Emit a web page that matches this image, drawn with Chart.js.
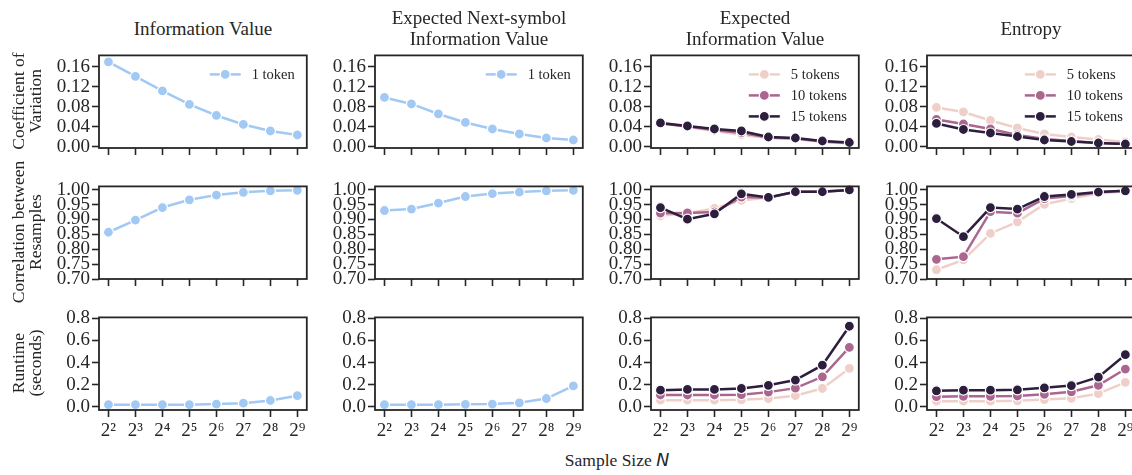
<!DOCTYPE html>
<html>
<head>
<meta charset="utf-8">
<title>Sample size sweep</title>
<script src="https://cdn.jsdelivr.net/npm/chart.js@4.4.1/dist/chart.umd.min.js"></script>
<style>
  html, body { margin: 0; padding: 0; background: #fff; overflow: hidden; }
  body { width: 1132px; height: 475px; position: relative;
         font-family: 'Liberation Serif', 'Times New Roman', serif; color: #262626; }
  .panel { position: absolute; }
  .col-title { position: absolute; width: 280px; text-align: center; font-size: 19px; line-height: 21px; white-space: nowrap; }
  .row-label { position: absolute; width: 200px; height: 34px; text-align: center; font-size: 17.5px;
               line-height: 17px; transform: rotate(-90deg); white-space: nowrap; }
  .x-label { position: absolute; left: 417px; top: 450px; width: 400px; text-align: center;
             font-size: 17.5px; line-height: 20px; }
  .x-label i { font-family: 'DejaVu Sans', sans-serif; }
</style>
</head>
<body>
<div class="x-label">Sample Size <i>N</i></div>
<script>
// ----------------------------
// Data
// ----------------------------
var exponents = [2, 3, 4, 5, 6, 7, 8, 9];
var xTickLabels = ['2²', '2³', '2⁴', '2⁵', '2⁶', '2⁷', '2⁸', '2⁹'];

var columnTitles = [['Information Value'], ['Expected Next-symbol', 'Information Value'],
                    ['Expected', 'Information Value'], ['Entropy']];
var rowLabels = [['Coefficient of', 'Variation'], ['Correlation between', 'Resamples'],
                 ['Runtime', '(seconds)']];

var oneTokenLabel = ['1 token'];
var tokenLabels = ['5 tokens', '10 tokens', '15 tokens'];

var cvTicks = [0, 0.04, 0.08, 0.12, 0.16];
var corrTicks = [0.70, 0.75, 0.80, 0.85, 0.90, 0.95, 1.00];
var runtimeTicks = [0, 0.2, 0.4, 0.6, 0.8];

// coefficient of variation
var cvInfoValue   = [0.170, 0.141, 0.112, 0.085, 0.063, 0.045, 0.032, 0.024];
var cvNextSymbol  = [0.099, 0.086, 0.066, 0.049, 0.036, 0.026, 0.018, 0.014];
var cvExpected5   = [0.050, 0.040, 0.032, 0.024, 0.018, 0.016, 0.010, 0.007];
var cvExpected10  = [0.047, 0.041, 0.034, 0.028, 0.019, 0.017, 0.011, 0.008];
var cvExpected15  = [0.048, 0.042, 0.036, 0.032, 0.020, 0.018, 0.012, 0.009];
var cvEntropy5    = [0.079, 0.070, 0.053, 0.038, 0.026, 0.020, 0.015, 0.010];
var cvEntropy10   = [0.055, 0.046, 0.036, 0.024, 0.016, 0.012, 0.008, 0.006];
var cvEntropy15   = [0.047, 0.035, 0.028, 0.021, 0.014, 0.011, 0.008, 0.006];

// correlation between resamples
var corrInfoValue  = [0.857, 0.898, 0.940, 0.966, 0.982, 0.991, 0.996, 0.998];
var corrNextSymbol = [0.930, 0.935, 0.955, 0.977, 0.987, 0.992, 0.996, 0.998];
var corrExpected5  = [0.912, 0.921, 0.937, 0.964, 0.974, 0.993, 0.994, 0.998];
var corrExpected10 = [0.921, 0.922, 0.925, 0.975, 0.973, 0.993, 0.994, 0.998];
var corrExpected15 = [0.940, 0.901, 0.919, 0.986, 0.974, 0.993, 0.993, 0.999];
var corrEntropy5   = [0.731, 0.764, 0.853, 0.892, 0.951, 0.970, 0.988, 0.994];
var corrEntropy10  = [0.766, 0.775, 0.926, 0.921, 0.970, 0.979, 0.991, 0.996];
var corrEntropy15  = [0.903, 0.842, 0.940, 0.935, 0.977, 0.984, 0.992, 0.996];

// runtime (seconds)
var rtInfoValue   = [0.018, 0.018, 0.018, 0.018, 0.024, 0.032, 0.056, 0.100];
var rtNextSymbol  = [0.018, 0.018, 0.018, 0.021, 0.024, 0.035, 0.074, 0.188];
var rtExpected5   = [0.059, 0.059, 0.059, 0.062, 0.074, 0.100, 0.165, 0.347];
var rtExpected10  = [0.106, 0.106, 0.106, 0.109, 0.132, 0.168, 0.271, 0.538];
var rtExpected15  = [0.150, 0.156, 0.156, 0.165, 0.194, 0.241, 0.376, 0.729];
var rtEntropy5    = [0.050, 0.050, 0.050, 0.053, 0.065, 0.076, 0.118, 0.221];
var rtEntropy10   = [0.091, 0.094, 0.094, 0.097, 0.112, 0.135, 0.194, 0.341];
var rtEntropy15   = [0.144, 0.150, 0.150, 0.153, 0.171, 0.191, 0.268, 0.471];

// ----------------------------
// Layout / styles
// ----------------------------
var INK = '#262626';
var BLUE = '#a1c9f4';
var TOKEN_COLORS = ['#efd0c9', '#ab6690', '#2d1e3e'];
var SERIF = "'Liberation Serif', 'Times New Roman', serif";

var colLefts = [99, 375, 651, 927];
var rowTops = [54, 185, 316];
var FRAME_W = 208, FRAME_H = 94;
var Y_AXIS_W = 60, PAD_TOP = 12, PAD_RIGHT = 6, X_AXIS_H = 36;

var rowAxes = [
    { ticks: cvTicks, min: -0.002, max: 0.183, dec: 2 },
    { ticks: corrTicks, min: 0.70, max: 1.011, dec: 2 },
    { ticks: runtimeTicks, min: -0.030, max: 0.809, dec: 1 }
];

var panelSeries = [
    [[cvInfoValue], [cvNextSymbol], [cvExpected5, cvExpected10, cvExpected15], [cvEntropy5, cvEntropy10, cvEntropy15]],
    [[corrInfoValue], [corrNextSymbol], [corrExpected5, corrExpected10, corrExpected15], [corrEntropy5, corrEntropy10, corrEntropy15]],
    [[rtInfoValue], [rtNextSymbol], [rtExpected5, rtExpected10, rtExpected15], [rtEntropy5, rtEntropy10, rtEntropy15]]
];

Chart.defaults.font.family = SERIF;
Chart.defaults.color = INK;

// ----------------------------
// Plugins: full frame + legend inside the axes
// ----------------------------
var framePlugin = {
    id: 'frame',
    afterDatasetsDraw: function (chart) {
        var a = chart.chartArea, ctx = chart.ctx;
        ctx.save();
        ctx.strokeStyle = INK;
        ctx.lineWidth = 1.8;
        ctx.strokeRect(a.left, a.top, a.right - a.left, a.bottom - a.top);
        ctx.restore();
    }
};

var innerLegendPlugin = {
    id: 'innerLegend',
    afterDraw: function (chart, args, opts) {
        if (!opts.show) return;
        var ctx = chart.ctx, a = chart.chartArea;
        var sets = chart.data.datasets;
        ctx.save();
        ctx.font = '14.5px ' + SERIF;
        var maxW = 0;
        sets.forEach(function (d) { maxW = Math.max(maxW, ctx.measureText(d.label).width); });
        var textX = a.right - 12 - maxW;
        sets.forEach(function (d, i) {
            var y = a.top + 19 + i * 21;
            var x1 = textX - 42, x2 = textX - 11;
            ctx.strokeStyle = d.borderColor;
            ctx.lineWidth = d.borderWidth;
            ctx.beginPath(); ctx.moveTo(x1, y); ctx.lineTo(x2, y); ctx.stroke();
            ctx.beginPath(); ctx.arc((x1 + x2) / 2, y, 5, 0, Math.PI * 2);
            ctx.fillStyle = d.borderColor; ctx.fill();
            ctx.lineWidth = 1.2; ctx.strokeStyle = '#fff'; ctx.stroke();
            ctx.fillStyle = INK;
            ctx.textBaseline = 'middle';
            ctx.fillText(d.label, textX, y + 1);
        });
        ctx.restore();
    }
};

// ----------------------------
// Build panels
// ----------------------------
function makeDatasets(seriesList) {
    var labels = seriesList.length === 1 ? oneTokenLabel : tokenLabels;
    var colors = seriesList.length === 1 ? [BLUE] : TOKEN_COLORS;
    return seriesList.map(function (values, i) {
        return {
            label: labels[i],
            data: exponents.map(function (e, k) { return { x: e, y: values[k] }; }),
            borderColor: colors[i],
            backgroundColor: colors[i],
            pointBackgroundColor: colors[i],
            pointBorderColor: '#fff',
            pointBorderWidth: 1.2,
            pointRadius: 5,
            borderWidth: 2.5,
            order: seriesList.length - 1 - i,
            clip: false
        };
    });
}

function buildPanel(row, col) {
    var axis = rowAxes[row];
    var wrap = document.createElement('div');
    wrap.className = 'panel';
    var w = Y_AXIS_W + FRAME_W + PAD_RIGHT, h = PAD_TOP + FRAME_H + X_AXIS_H;
    wrap.style.left = (colLefts[col] - Y_AXIS_W) + 'px';
    wrap.style.top = (rowTops[row] - PAD_TOP) + 'px';
    var canvas = document.createElement('canvas');
    canvas.width = w; canvas.height = h;
    canvas.style.width = w + 'px'; canvas.style.height = h + 'px';
    wrap.appendChild(canvas);
    document.body.appendChild(wrap);

    var tickGrid = { drawOnChartArea: false, drawTicks: true, tickLength: 7, tickWidth: 1.6, tickColor: INK };

    new Chart(canvas.getContext('2d'), {
        type: 'line',
        data: { datasets: makeDatasets(panelSeries[row][col]) },
        plugins: [framePlugin, innerLegendPlugin],
        options: {
            responsive: false,
            animation: false,
            devicePixelRatio: 1,
            events: [],
            layout: { padding: { left: 0, top: PAD_TOP, right: PAD_RIGHT, bottom: 0 } },
            plugins: {
                legend: { display: false },
                tooltip: { enabled: false },
                innerLegend: { show: row === 0 }
            },
            scales: {
                x: {
                    type: 'linear', min: 1.65, max: 9.35,
                    afterBuildTicks: function (s) { s.ticks = exponents.map(function (v) { return { value: v }; }); },
                    afterFit: function (s) { s.height = X_AXIS_H; },
                    ticks: {
                        autoSkip: false, maxRotation: 0, padding: 3,
                        font: { family: SERIF, size: 19 }, color: INK,
                        callback: function (v, i) { return row === 2 ? xTickLabels[i] : ''; }
                    },
                    grid: tickGrid,
                    border: { display: false }
                },
                y: {
                    min: axis.min, max: axis.max,
                    afterBuildTicks: function (s) { s.ticks = axis.ticks.map(function (v) { return { value: v }; }); },
                    afterFit: function (s) { s.width = Y_AXIS_W; },
                    ticks: {
                        autoSkip: false, padding: 2,
                        font: { family: SERIF, size: 19 }, color: INK,
                        callback: function (v) { return v.toFixed(axis.dec); }
                    },
                    grid: tickGrid,
                    border: { display: false }
                }
            }
        }
    });
}

for (var r = 0; r < 3; r++) {
    for (var c = 0; c < 4; c++) buildPanel(r, c);
}

// ----------------------------
// Titles and row labels
// ----------------------------
columnTitles.forEach(function (lines, c) {
    var d = document.createElement('div');
    d.className = 'col-title';
    d.style.left = (colLefts[c] + FRAME_W / 2 - 140) + 'px';
    d.style.top = (lines.length === 1 ? 18 : 7) + 'px';
    d.innerHTML = lines.join('<br>');
    document.body.appendChild(d);
});

rowLabels.forEach(function (lines, r) {
    var d = document.createElement('div');
    d.className = 'row-label';
    d.style.left = (26.5 - 100) + 'px';
    d.style.top = (rowTops[r] + FRAME_H / 2 - 17) + 'px';
    d.innerHTML = lines.join('<br>');
    document.body.appendChild(d);
});
</script>
</body>
</html>
